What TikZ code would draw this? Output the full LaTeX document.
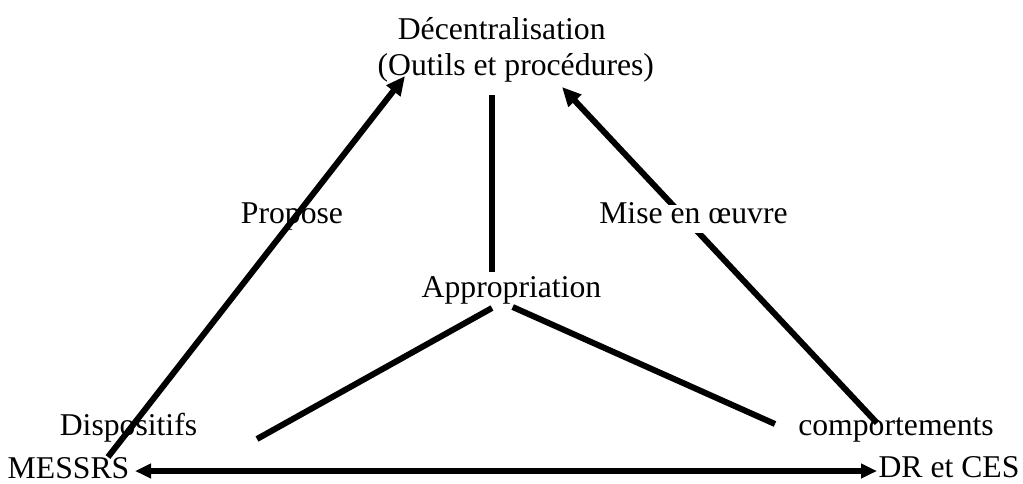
\documentclass[tikz,border=0pt]{standalone}
\usepackage{fontspec}
\setmainfont{Liberation Serif}
\usetikzlibrary{arrows.meta}
\begin{document}
\begin{tikzpicture}[x=1pt,y=-1pt,
  lbl/.style={anchor=base, inner sep=0pt, font=\fontsize{31.7pt}{36pt}\selectfont},
  link/.style={line width=6pt},
  arr/.style={link, -{Triangle[length=19pt,width=17pt]}},
  darr/.style={line width=5.5pt, {Triangle[length=16pt,width=14pt]}-{Triangle[length=16pt,width=14pt]}}]
\useasboundingbox (0,0) rectangle (1023,483);

% labels
\node[lbl] (dec) at (501.7,39) {Décentralisation};
\node[lbl] (outils) at (515.8,75) {(Outils et procédures)};
\node[lbl] (propose) at (292,223) {Propose};
\node[lbl] (appro) at (511.5,297) {Appropriation};
\node[lbl] (dispo) at (128.5,435) {Dispositifs};
\node[lbl] (messrs) at (68.5,478) {MESSRS};
\node[lbl] (compo) at (896,435) {comportements};
\node[lbl] (drces) at (949,477) {DR et CES};

% line ends
\coordinate (pA) at (108,457);   \coordinate (pB) at (405,76);
\coordinate (mA) at (877,423);   \coordinate (mB) at (562,87);
\coordinate (vA) at (492,95);    \coordinate (vB) at (492,272);
\coordinate (lA) at (492,308);   \coordinate (lB) at (257,439);
\coordinate (rA) at (512.7,307); \coordinate (rB) at (775,424);
\coordinate (bA) at (135,471);   \coordinate (bB) at (877,471);

% connectors
\draw[link] (vA) -- (vB);
\draw[link] (lA) -- (lB);
\draw[link] (rA) -- (rB);
\draw[arr] (pA) -- (pB);
\draw[arr] (mA) -- (mB);
\draw[darr] (bA) -- (bB);

% label sitting over the right arrow
\node[lbl, fill=white, text height=18pt, text depth=10pt] (mise) at (693.5,223) {Mise en œuvre};
\end{tikzpicture}
\end{document}
